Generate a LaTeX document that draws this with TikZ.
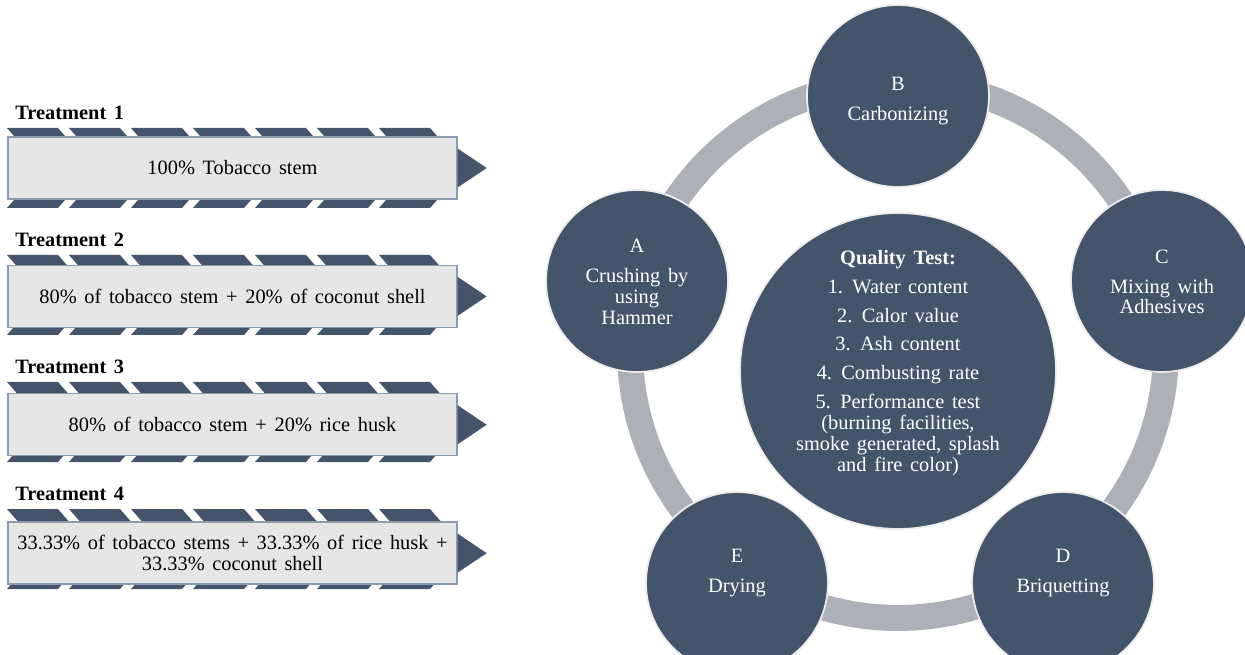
\documentclass[tikz,border=0pt]{standalone}
\usepackage{fontspec}
\setmainfont{Liberation Serif}[WordSpace=1.5]
\usetikzlibrary{positioning}
\definecolor{slate}{HTML}{44546A}
\definecolor{ringgray}{HTML}{ADB0B8}
\definecolor{boxgray}{HTML}{E6E6E6}
\definecolor{boxline}{HTML}{8A9AB0}

\begin{document}
\begin{tikzpicture}[x=0.02cm, y=-0.02cm,
    heading/.style={anchor=west, inner sep=0pt,
      font=\bfseries\fontsize{11.6}{12}\selectfont},
    mixbox/.style={draw=boxline, fill=boxgray, line width=0.8pt, inner sep=0pt,
      minimum width=8.98cm, minimum height=1.24cm, align=center,
      font=\fontsize{11.6}{11.9}\selectfont},
    chevron/.style={fill=slate},
    stage/.style={circle, fill=slate, draw=gray!15, line width=1pt,
      minimum size=3.64cm, inner sep=0pt},
    quality/.style={stage, minimum size=6.32cm},
    caption/.style={text=white, align=center, inner sep=0pt,
      font=\fontsize{11.6}{11.9}\selectfont} ]

    \useasboundingbox (0,0) rectangle (1245,655);

    % Chevron bands behind the treatment boxes
    \foreach \row in {0,...,3}
      \foreach \k in {0,...,6}
        \fill[chevron] (7+62*\k, 128+127*\row) -- ++(51,0) -- ++(35,40)
          -- ++(-35,40) -- ++(-51,0) -- ++(35,-40) -- cycle;

    % Treatment boxes
    \node[mixbox] (t1) at (232.5,168) {100\% Tobacco stem};
    \node[mixbox, below=1.3cm of t1] (t2) {80\% of tobacco stem + 20\% of coconut shell};
    \node[mixbox, below=1.3cm of t2] (t3) {80\% of tobacco stem + 20\% rice husk};
    \node[mixbox, below=1.3cm of t3] (t4) {33.33\% of tobacco stems + 33.33\% of rice husk +\\
      33.33\% coconut shell};

    % Arrow heads on the right of each box
    \foreach \t in {t1,t2,t3,t4}
      \fill[chevron] ([yshift=0.39cm]\t.east) -- ([xshift=0.58cm]\t.east)
        -- ([yshift=-0.39cm]\t.east) -- cycle;

    % Treatment headings
    \node[heading] (h1) at (15,113) {Treatment 1};
    \node[heading] (h2) at (15,240) {Treatment 2};
    \node[heading] (h3) at (15,367) {Treatment 3};
    \node[heading] (h4) at (15,494) {Treatment 4};

    % Grey ring linking the stages
    \draw[ringgray, line width=0.52cm] (898,350) circle (5.36cm);

    % Process stages
    \node[stage] (crush) at (637,281) {};
    \node[stage] (carbon) at (898,96) {};
    \node[stage] (mix) at (1162,281) {};
    \node[stage] (briq) at (1063,583) {};
    \node[stage] (dry) at (737,583) {};
    \node[quality] (test) at (898,371) {};

    % Stage labels
    \node[caption] at (637,282) {A\\[5pt]Crushing by\\using\\Hammer};
    \node[caption] at (898,101) {B\\[5pt]Carbonizing};
    \node[caption] at (1162,282) {C\\[5pt]Mixing with\\Adhesives};
    \node[caption] at (1063,573) {D\\[5pt]Briquetting};
    \node[caption] at (737,573) {E\\[5pt]Drying};

    % Quality test list
    \node[caption] at (898,363) {\textbf{Quality Test:}\\[4.5pt]
      1. Water content\\[4.5pt]
      2. Calor value\\[4.5pt]
      3. Ash content\\[4.5pt]
      4. Combusting rate\\[4.5pt]
      5. Performance test\\(burning facilities,\\smoke generated, splash\\and fire color)};

\end{tikzpicture}
\end{document}
